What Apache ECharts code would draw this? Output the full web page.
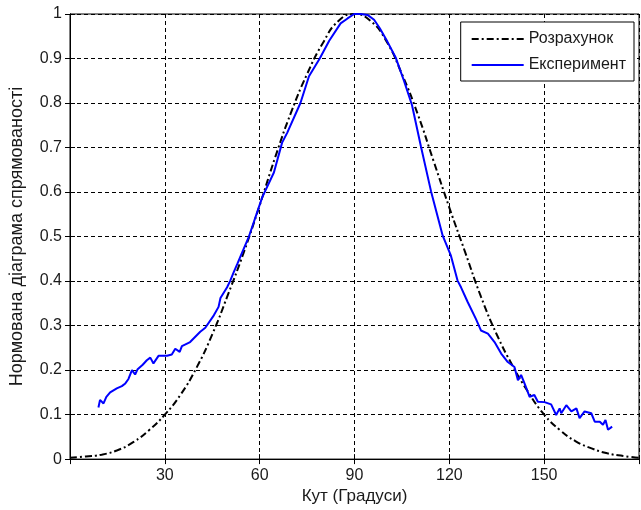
<!DOCTYPE html>
<html>
<head>
<meta charset="utf-8">
<script src="https://cdn.jsdelivr.net/npm/echarts@6/dist/echarts.min.js"></script>
<style>
  html, body { margin: 0; padding: 0; background: #fff; }
  #main { width: 641px; height: 510px; }
</style>
</head>
<body>
<div id="main"></div>
<script>
// розрахункова діаграма (кут, значення)
var calcDeg = [0, 5, 10, 15, 20, 25, 30, 35, 40, 45, 50, 55, 60, 65, 70, 75, 80, 85, 90,
  95, 100, 105, 110, 115, 120, 125, 130, 135, 140, 145, 150, 155, 160, 165, 170, 175, 180];
var calcVal = [0.003, 0.006, 0.01, 0.02, 0.038, 0.065, 0.10, 0.145, 0.205, 0.28, 0.37, 0.465, 0.57, 0.68, 0.78, 0.865, 0.935, 0.985, 1.0,
  0.985, 0.94, 0.865, 0.775, 0.67, 0.565, 0.465, 0.365, 0.28, 0.21, 0.15, 0.10, 0.065, 0.04, 0.024, 0.013, 0.007, 0.003];

// експеримент
var expDeg = [9.0, 9.5, 10.6, 11.5, 12.7, 14.8, 16.4, 17.5, 18.5, 19.6, 20.6, 21.4, 23, 24.3, 25.4, 26.4, 28, 30.7, 32.2, 33.3,
  34.7, 35.4, 38, 41.2, 42.8, 45.5, 47, 47.6, 49.7, 50.7, 51.8, 52.9, 54.5, 56.6, 60.8, 64.5, 67.1, 68.7, 72.9, 75.6,
  79, 82, 85.6, 87.8, 89.9, 92, 94.1, 96.2, 98, 100.4, 103.1, 105.7, 108.2, 111, 114.2, 117.9, 120.5, 122.6, 123.7, 125.8,
  128.4, 130, 132.2, 134.3, 136.4, 138.5, 140.6, 141.7, 142.7, 144, 145.4, 146.9, 148, 150.1, 152.2, 153.8, 154.9, 155.4, 157, 158.6,
  160.2, 161.2, 162.8, 164.9, 166, 167.6, 168.6, 169.4, 170.2, 171.5];
var expVal = [0.116, 0.133, 0.125, 0.14, 0.15, 0.159, 0.164, 0.17, 0.18, 0.2, 0.19, 0.202, 0.212, 0.222, 0.228, 0.215, 0.232, 0.232, 0.235, 0.248,
  0.241, 0.254, 0.263, 0.286, 0.295, 0.323, 0.342, 0.362, 0.386, 0.401, 0.42, 0.438, 0.465, 0.5, 0.588, 0.644, 0.711, 0.733, 0.80, 0.86,
  0.9, 0.94, 0.979, 0.99, 1.0, 1.0, 0.998, 0.987, 0.968, 0.938, 0.901, 0.849, 0.795, 0.703, 0.602, 0.502, 0.457, 0.401, 0.386, 0.353,
  0.315, 0.289, 0.282, 0.263, 0.237, 0.218, 0.207, 0.177, 0.189, 0.166, 0.14, 0.144, 0.129, 0.128, 0.123, 0.099, 0.114, 0.103, 0.121, 0.107,
  0.114, 0.092, 0.107, 0.103, 0.084, 0.084, 0.077, 0.088, 0.066, 0.073];

function pairs(xs, ys) {
  return xs.map(function (x, i) { return [x, ys[i]]; });
}

var font = 'Liberation Sans, Arial, sans-serif';
var txt = '#1a1a1a';
var gridDash = { color: '#000', width: 1, type: [4, 3] };
var dashDot = [7, 3, 2, 3];

var chart = echarts.init(document.getElementById('main'), null, { renderer: 'canvas' });

var option = {
  animation: false,
  backgroundColor: '#fff',
  grid: {
    left: 70, top: 14, right: 2, bottom: 49,
    show: true, borderColor: '#000', borderWidth: 1, backgroundColor: 'transparent'
  },
  legend: {
    orient: 'vertical',
    right: 7, top: 22,
    backgroundColor: '#fff',
    borderColor: '#000',
    borderWidth: 1,
    padding: [9, 8, 8, 10],
    itemWidth: 52, itemHeight: 14, itemGap: 10,
    itemStyle: { opacity: 0 },
    textStyle: { fontFamily: font, fontSize: 16, color: txt },
    data: ['Розрахунок', 'Експеримент']
  },
  xAxis: [{
    type: 'value', min: 0, max: 180, interval: 30,
    name: 'Кут (Градуси)', nameLocation: 'middle', nameGap: 27,
    nameTextStyle: { fontFamily: font, fontSize: 17, color: txt },
    axisLine: { lineStyle: { color: '#000' } },
    axisTick: { inside: true, length: 5, lineStyle: { color: '#000' } },
    axisLabel: { showMinLabel: false, showMaxLabel: false, margin: 8, fontFamily: font, fontSize: 16, color: txt },
    splitLine: { show: true, lineStyle: gridDash }
  }, {
    type: 'value', min: 0, max: 180, interval: 30, position: 'top',
    axisLine: { lineStyle: { color: '#000' } },
    axisTick: { inside: true, length: 5, lineStyle: { color: '#000' } },
    axisLabel: { show: false }, splitLine: { show: false }
  }],
  yAxis: [{
    type: 'value', min: 0, max: 1, interval: 0.1,
    name: 'Нормована діаграма спрямованості', nameLocation: 'middle', nameGap: 44,
    nameTextStyle: { fontFamily: font, fontSize: 18, color: txt },
    axisLine: { show: true, lineStyle: { color: '#000' } },
    axisTick: { show: true, inside: true, length: 5, lineStyle: { color: '#000' } },
    axisLabel: { margin: 8, fontFamily: font, fontSize: 16, color: txt },
    splitLine: { show: true, lineStyle: gridDash }
  }, {
    type: 'value', min: 0, max: 1, interval: 0.1, position: 'right',
    axisLine: { show: true, lineStyle: { color: '#000' } },
    axisTick: { show: true, inside: true, length: 5, lineStyle: { color: '#000' } },
    axisLabel: { show: false }, splitLine: { show: false }
  }],
  series: [{
    name: 'Розрахунок',
    type: 'line',
    smooth: true,
    symbol: 'none',
    color: '#000',
    lineStyle: { color: '#000', width: 2, type: dashDot },
    data: pairs(calcDeg, calcVal),
    z: 3
  }, {
    name: 'Експеримент',
    type: 'line',
    symbol: 'none',
    color: '#0000ff',
    lineStyle: { color: '#0000ff', width: 2 },
    data: pairs(expDeg, expVal),
    z: 4
  }]
};

chart.setOption(option);
</script>
</body>
</html>
